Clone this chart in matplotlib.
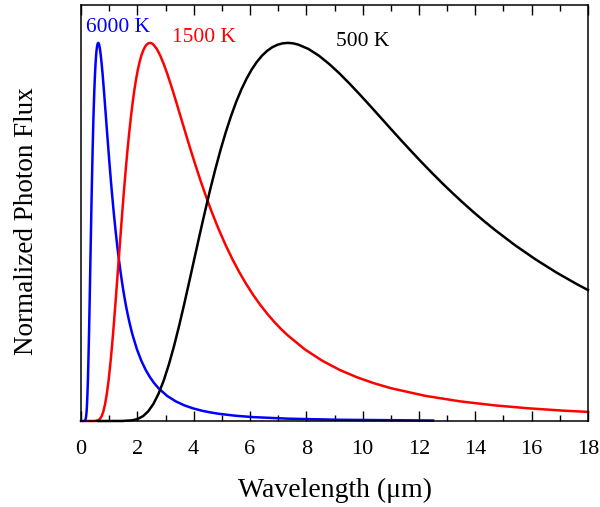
import matplotlib
matplotlib.use("Agg")
from matplotlib import pyplot as plt
from matplotlib.ticker import MultipleLocator

# values (normalized photon flux vs wavelength in um)
wl_6000 = [0.0, 0.10, 0.122, 0.153, 0.168, 0.183, 0.199, 0.214, 0.229, 0.245, 0.260, 0.275,
           0.291, 0.306, 0.321, 0.336, 0.352, 0.367, 0.382, 0.398, 0.413, 0.428, 0.443,
           0.459, 0.474, 0.489, 0.505, 0.520, 0.535, 0.550, 0.566, 0.581, 0.596, 0.612,
           0.627, 0.642, 0.673, 0.703, 0.734, 0.765, 0.795, 0.826, 0.856, 0.887, 0.917,
           0.948, 0.979, 1.009, 1.040, 1.070, 1.101, 1.132, 1.162, 1.193, 1.223, 1.284,
           1.346, 1.407, 1.468, 1.529, 1.590, 1.651, 1.713, 1.774, 1.835, 1.988, 2.141,
           2.294, 2.447, 2.599, 2.752, 3.058, 3.364, 3.670, 3.976, 4.281, 4.587, 4.893,
           5.505, 6.116, 7.340, 9.175, 12.5]
flux_6000 = [0.0, 0.0, 0.0001, 0.0020, 0.0056, 0.0129, 0.0255, 0.0450, 0.0720, 0.1069, 0.1493,
             0.1983, 0.2527, 0.3111, 0.3718, 0.4336, 0.4949, 0.5548, 0.6123, 0.6664, 0.7170,
             0.7634, 0.8053, 0.8430, 0.8759, 0.9045, 0.9290, 0.9493, 0.9659, 0.9788, 0.9884,
             0.9949, 0.9987, 1.0, 0.9989, 0.9956, 0.9840, 0.9664, 0.9444, 0.9193, 0.8917,
             0.8627, 0.8327, 0.8023, 0.7718, 0.7416, 0.7120, 0.6830, 0.6549, 0.6276, 0.6014,
             0.5761, 0.5518, 0.5286, 0.5063, 0.4647, 0.4270, 0.3926, 0.3615, 0.3331, 0.3075,
             0.2843, 0.2631, 0.2439, 0.2265, 0.1892, 0.1595, 0.1355, 0.1160, 0.1000, 0.0867,
             0.0664, 0.0520, 0.0414, 0.0335, 0.0274, 0.0228, 0.0191, 0.0138, 0.0103, 0.0062,
             0.0033, 0.0013]

wl_1500 = [0.2, 0.489, 0.612, 0.673, 0.734, 0.795, 0.856, 0.917, 0.979, 1.040, 1.101, 1.162,
           1.223, 1.284, 1.346, 1.407, 1.468, 1.529, 1.590, 1.651, 1.713, 1.774, 1.835,
           1.896, 1.957, 2.018, 2.080, 2.141, 2.202, 2.263, 2.324, 2.385, 2.447, 2.508,
           2.569, 2.691, 2.813, 2.936, 3.058, 3.180, 3.303, 3.425, 3.547, 3.670, 3.792,
           3.914, 4.037, 4.159, 4.281, 4.404, 4.526, 4.648, 4.771, 4.893, 5.138, 5.382,
           5.627, 5.872, 6.116, 6.361, 6.606, 6.850, 7.095, 7.340, 7.951, 8.563, 9.174,
           9.786, 10.398, 11.009, 12.233, 13.456, 14.679, 15.902, 17.126, 18.0]
flux_1500 = [0.0, 0.0001, 0.0020, 0.0056, 0.0129, 0.0255, 0.0450, 0.0720, 0.1069, 0.1493,
             0.1983, 0.2527, 0.3111, 0.3718, 0.4336, 0.4949, 0.5548, 0.6123, 0.6664, 0.7170,
             0.7634, 0.8053, 0.8430, 0.8759, 0.9045, 0.9290, 0.9493, 0.9659, 0.9788, 0.9884,
             0.9949, 0.9987, 1.0, 0.9989, 0.9956, 0.9840, 0.9664, 0.9444, 0.9193, 0.8917,
             0.8627, 0.8327, 0.8023, 0.7718, 0.7416, 0.7120, 0.6830, 0.6549, 0.6276, 0.6014,
             0.5761, 0.5518, 0.5286, 0.5063, 0.4647, 0.4270, 0.3926, 0.3615, 0.3331, 0.3075,
             0.2843, 0.2631, 0.2439, 0.2265, 0.1892, 0.1595, 0.1355, 0.1160, 0.1000, 0.0867,
             0.0664, 0.0520, 0.0414, 0.0335, 0.0274, 0.0241]

wl_500 = [0.6, 1.468, 1.835, 2.018, 2.202, 2.385, 2.569, 2.752, 2.936, 3.119, 3.303, 3.486,
          3.670, 3.853, 4.037, 4.220, 4.404, 4.587, 4.771, 4.954, 5.138, 5.321, 5.505,
          5.688, 5.872, 6.055, 6.239, 6.422, 6.606, 6.789, 6.973, 7.156, 7.340, 7.523,
          7.707, 8.074, 8.441, 8.808, 9.175, 9.541, 9.908, 10.275, 10.642, 11.009, 11.376,
          11.743, 12.110, 12.477, 12.844, 13.211, 13.578, 13.945, 14.312, 14.679, 15.413,
          16.147, 16.881, 17.615, 18.0]
flux_500 = [0.0, 0.0001, 0.0020, 0.0056, 0.0129, 0.0255, 0.0450, 0.0720, 0.1069, 0.1493,
            0.1983, 0.2527, 0.3111, 0.3718, 0.4336, 0.4949, 0.5548, 0.6123, 0.6664, 0.7170,
            0.7634, 0.8053, 0.8430, 0.8759, 0.9045, 0.9290, 0.9493, 0.9659, 0.9788, 0.9884,
            0.9949, 0.9987, 1.0, 0.9989, 0.9956, 0.9840, 0.9664, 0.9444, 0.9193, 0.8917,
            0.8627, 0.8327, 0.8023, 0.7718, 0.7416, 0.7120, 0.6830, 0.6549, 0.6276, 0.6014,
            0.5761, 0.5518, 0.5286, 0.5063, 0.4647, 0.4270, 0.3926, 0.3615, 0.3464]

labels = ["6000 K", "1500 K", "500 K"]
label_pos = [(0.18, 1.042), (3.24, 1.013), (9.04, 1.003)]
colors = ["blue", "red", "black"]

plt.rcParams['font.family'] = ['Liberation Serif', 'DejaVu Serif']

fig = plt.figure(figsize=(6, 5.07), dpi=100)
ax = fig.add_axes([0.135, 0.1696, 0.845, 0.8204])

series = [(wl_6000, flux_6000), (wl_1500, flux_1500), (wl_500, flux_500)]
for (wl, fl), c in zip(series, colors):
    ax.plot(wl, fl, color=c, lw=1.8, solid_joinstyle='round', clip_on=False)

for txt, (x, y), c in zip(labels, label_pos, colors):
    ax.text(x, y, txt, color=c, fontsize=15.5, va='center', ha='left')

ax.set_xlim(0, 18)
ax.set_ylim(0, 1.1)
ax.xaxis.set_major_locator(MultipleLocator(2))
ax.xaxis.set_minor_locator(MultipleLocator(1))
ax.tick_params(axis='x', which='both', direction='in', top=True, labelsize=16, width=1.0)
ax.tick_params(axis='x', which='major', length=7, pad=13.5)
ax.tick_params(axis='x', which='minor', length=4)
ax.set_yticks([])
for s in ax.spines.values():
    s.set_linewidth(1.1)

ax.set_xlabel("Wavelength (\u03bcm)", fontsize=20, labelpad=14)
ax.set_ylabel("Normalized Photon Flux", fontsize=19.5, labelpad=30)
ax.yaxis.label.set_y(0.48)

fig.savefig("out.png", dpi=100)
